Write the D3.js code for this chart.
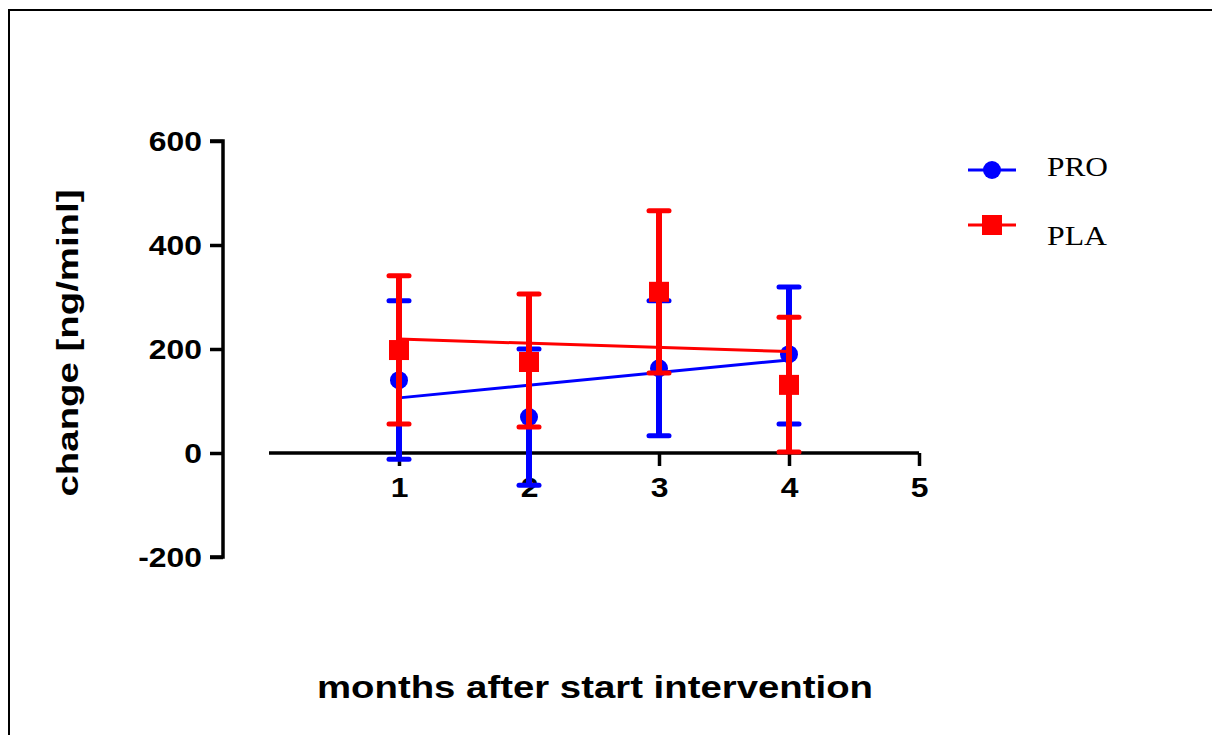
<!DOCTYPE html>
<html><head><meta charset="utf-8">
<script src="https://cdn.jsdelivr.net/npm/d3@7"></script>
<style>
html,body{margin:0;padding:0;background:#fff;}
svg{display:block;}
</style></head>
<body>
<script>
// ---- data ----
const months = [1, 2, 3, 4];
const proMean = [140, 69, 163, 190];
const proLow  = [-12, -62, 33, 56];
const proHigh = [293, 200, 293, 319];
const plaMean = [198, 175, 310, 131];
const plaLow  = [56, 50, 154, 2];
const plaHigh = [341, 306, 466, 261];
const fitX = [1, 4];
const proFit = [106, 179];
const plaFit = [219, 195];
const xTicks = [1, 2, 3, 4, 5];
const yTicks = [-200, 0, 200, 400, 600];
const seriesNames = ["PRO", "PLA"];

const W = 1212, H = 735;
const svg = d3.select("body").append("svg").attr("width", W).attr("height", H);

// frame
svg.append("path").attr("d", "M9,736V10H1213").attr("fill", "none")
  .attr("stroke", "#000").attr("stroke-width", 2);

const x = d3.scaleLinear().domain([0, 5]).range([269, 919]);
const y = d3.scaleLinear().domain([-200, 600]).range([557, 141]);

const font = "'Liberation Sans', Arial, sans-serif";

function stretch(sel, f) {
  sel.each(function () {
    const l = this.getComputedTextLength();
    d3.select(this).attr("textLength", l * f).attr("lengthAdjust", "spacingAndGlyphs");
  });
}

// y axis
const yAxis = svg.append("g").attr("transform", "translate(223,0)")
  .call(d3.axisLeft(y).tickValues(yTicks).tickSize(13).tickPadding(8).tickFormat(d => String(d)));
yAxis.select(".domain").attr("d", `M-13,${y(600)}H0V${y(-200)}H-13`).attr("stroke-width", 3.5);
yAxis.selectAll(".tick line").attr("stroke-width", 3.5);
yAxis.selectAll(".tick text").attr("font-family", font).attr("font-weight", "bold")
  .attr("font-size", 27).attr("fill", "#000").attr("dy", "0.36em");
stretch(yAxis.selectAll(".tick text"), 1.18);

// x axis at y=0
const xAxis = svg.append("g").attr("transform", `translate(0,${y(0)})`)
  .call(d3.axisBottom(x).tickValues(xTicks).tickSize(13).tickPadding(12).tickFormat(d => String(d)));
xAxis.select(".domain").attr("d", `M${x(0)},0H${x(5)}`).attr("stroke-width", 3.5);
xAxis.selectAll(".tick line").attr("stroke-width", 3.5);
xAxis.selectAll(".tick text").attr("font-family", font).attr("font-weight", "bold")
  .attr("font-size", 27).attr("fill", "#000").attr("dy", "0.7em");
stretch(xAxis.selectAll(".tick text"), 1.18);

// titles
svg.append("text").attr("x", 595).attr("y", 698).attr("text-anchor", "middle")
  .attr("font-family", font).attr("font-weight", "bold").attr("font-size", 31)
  .attr("textLength", 556).attr("lengthAdjust", "spacingAndGlyphs")
  .text("months after start intervention");
svg.append("text").attr("transform", "translate(78,343) rotate(-90)").attr("text-anchor", "middle")
  .attr("font-family", font).attr("font-weight", "bold").attr("font-size", 30)
  .attr("textLength", 307).attr("lengthAdjust", "spacingAndGlyphs")
  .text("change [ng/minl]");

// series
const series = [
  { name: seriesNames[0], color: "#0000ff", mean: proMean, low: proLow, high: proHigh, fit: proFit, shape: "circle" },
  { name: seriesNames[1], color: "#ff0000", mean: plaMean, low: plaLow, high: plaHigh, fit: plaFit, shape: "square" }
];

function marker(g, shape, cx, cy, color) {
  if (shape === "circle") {
    g.append("circle").attr("cx", cx).attr("cy", cy).attr("r", 9).attr("fill", color);
  } else {
    g.append("rect").attr("x", cx - 10).attr("y", cy - 10).attr("width", 20).attr("height", 20).attr("fill", color);
  }
}

series.forEach(s => {
  const g = svg.append("g");
  g.append("line").attr("x1", x(fitX[0])).attr("x2", x(fitX[1]))
    .attr("y1", y(s.fit[0])).attr("y2", y(s.fit[1]))
    .attr("stroke", s.color).attr("stroke-width", 3);
  months.forEach((m, i) => {
    const cx = x(m);
    g.append("line").attr("x1", cx).attr("x2", cx).attr("y1", y(s.low[i])).attr("y2", y(s.high[i]))
      .attr("stroke", s.color).attr("stroke-width", 6);
    [s.low[i], s.high[i]].forEach(v => {
      g.append("line").attr("x1", cx - 10).attr("x2", cx + 10).attr("y1", y(v)).attr("y2", y(v))
        .attr("stroke", s.color).attr("stroke-width", 5).attr("stroke-linecap", "round");
    });
    marker(g, s.shape, cx, y(s.mean[i]), s.color);
  });
});

// legend
const legY = [170, 225];
series.forEach((s, i) => {
  const g = svg.append("g");
  g.append("line").attr("x1", 968).attr("x2", 1016).attr("y1", legY[i]).attr("y2", legY[i])
    .attr("stroke", s.color).attr("stroke-width", 3);
  marker(g, s.shape, 992, legY[i], s.color);
  g.append("text").attr("x", 1047).attr("y", legY[i] + (i === 0 ? 6 : 20))
    .attr("font-family", "'Liberation Serif', 'Times New Roman', serif").attr("font-size", 28)
    .attr("textLength", i === 0 ? 61 : 60).attr("lengthAdjust", "spacingAndGlyphs")
    .text(s.name);
});
</script>
</body></html>
